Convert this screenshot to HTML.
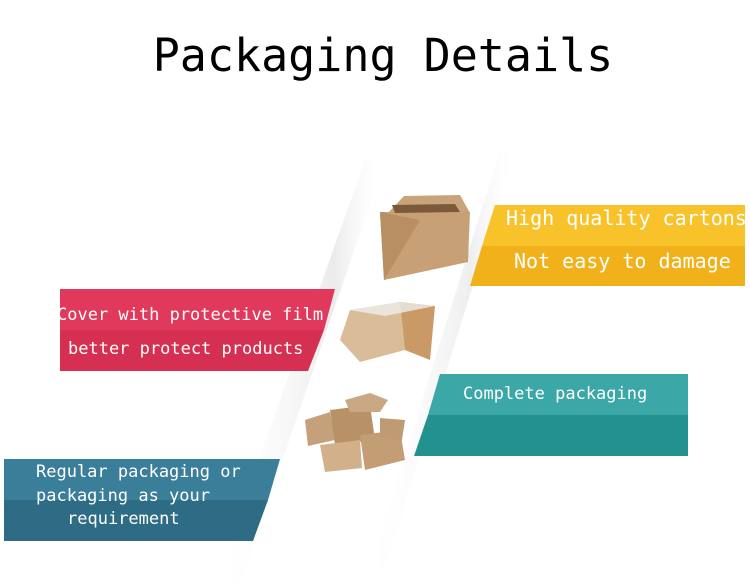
<!DOCTYPE html>
<html><head><style>
body{margin:0;background:#fff;}
svg{display:block}
text{font-family:"DejaVu Sans Mono","Liberation Mono",monospace;fill:#fff;}
</style></head><body>
<svg width="750" height="584" viewBox="0 0 750 584" xmlns="http://www.w3.org/2000/svg">
<defs>
<linearGradient id="sh" x1="0" x2="1" y1="0" y2="0">
<stop offset="0" stop-color="#fff" stop-opacity="0"/><stop offset="0.7" stop-color="#ddd"/><stop offset="1" stop-color="#fff" stop-opacity="0"/>
</linearGradient>
</defs>
<rect width="750" height="584" fill="#fff"/>
<text x="383" y="71" text-anchor="middle" font-size="45" style="fill:#000">Packaging Details</text>
<polygon points="365,160 385,160 240,584 215,584" fill="url(#sh)" opacity="0.6"/>
<polygon points="500,150 515,150 380,584 365,584" fill="url(#sh)" opacity="0.5"/>
<!-- yellow -->
<polygon points="495,205 745,205 745,246 482,246" fill="#f8c22b"/>
<polygon points="482,246 745,246 745,286 470,286" fill="#f0b11b"/>
<text x="506" y="225" font-size="20">High quality cartons</text>
<text x="514" y="268" font-size="20">Not easy to damage</text>
<!-- red -->
<polygon points="60,289 335,289 324,330 60,330" fill="#e1395b"/>
<polygon points="60,330 324,330 308,371 60,371" fill="#d52f51"/>
<text x="57" y="320" font-size="17">Cover with protective film</text>
<text x="68" y="354" font-size="17">better protect products</text>
<!-- teal -->
<polygon points="440,374 688,374 688,415 428,415" fill="#3ba7a6"/>
<polygon points="428,415 688,415 688,456 414,456" fill="#23918e"/>
<text x="463" y="399" font-size="17">Complete packaging</text>
<!-- blue -->
<polygon points="4,459 280,459 268,500 4,500" fill="#3b7e99"/>
<polygon points="4,500 268,500 253,541 4,541" fill="#2e6b85"/>
<text x="36" y="477" font-size="17">Regular packaging or</text>
<text x="36" y="501" font-size="17">packaging as your</text>
<text x="67" y="524" font-size="17">requirement</text>
<!-- box 1 -->
<polygon points="388,213 404,196 460,195 470,213" fill="#c9a47a"/>
<polygon points="380,212 470,212 468,262 384,280" fill="#c8a075"/>
<polygon points="380,212 420,220 384,280" fill="#b88e63"/>
<polygon points="392,205 455,204 460,212 395,213" fill="#7a5a3a"/>
<!-- box 2 -->
<polygon points="350,310 400,302 405,350 360,362 340,340" fill="#d9bd98"/>
<polygon points="400,302 435,306 430,360 405,350" fill="#c99a66"/>
<polygon points="350,310 400,302 435,306 385,316" fill="#eee" opacity="0.8"/>
<!-- box 3 -->
<polygon points="305,420 330,412 335,440 308,446" fill="#c5a17b"/>
<polygon points="330,410 370,405 375,440 335,445" fill="#b89167"/>
<polygon points="345,400 370,393 388,400 380,412 350,412" fill="#caa884"/>
<polygon points="360,435 400,430 405,460 365,470" fill="#c39d74"/>
<polygon points="320,445 360,440 362,468 325,472" fill="#d2b08a"/>
<polygon points="380,418 405,420 402,440 380,438" fill="#bf9a72"/>
</svg>
</body></html>
